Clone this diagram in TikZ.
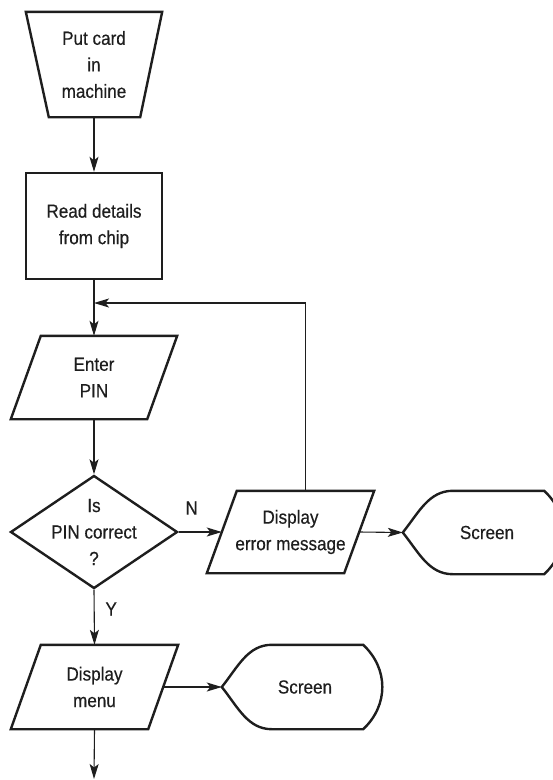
\documentclass[tikz,border=0pt]{standalone}
\usepackage{fontspec}
\setmainfont{Liberation Sans}[FakeStretch=0.9,FakeBold=0.4]
\usetikzlibrary{shapes.geometric,arrows.meta,calc}
\definecolor{ink}{HTML}{1E1E1E}
% parallelogram (input/output) outline around a rectangle node, slant 30pt
\newcommand{\iooutline}[1]{%
  \draw[outline] ($(#1.north west)+(30,0)$) -- (#1.north east) -- ($(#1.south east)+(-30,0)$) -- (#1.south west) -- cycle;
  \coordinate (#1-l) at ($(#1.west)+(15,0)$);
  \coordinate (#1-r) at ($(#1.east)+(-15,0)$);
  \coordinate (#1-t) at ($(#1.north)+(15,0)$);}
\newcommand{\screenoutline}[1]{%
  \draw[outline] (#1.west)
    .. controls ($(#1.west)+(16,-20)$) and ($(#1.north west)+(26,0)$) .. ($(#1.north west)+(50,0)$)
    -- ($(#1.north east)+(-19,0)$)
    .. controls ($(#1.north east)+(6.5,24)$) and ($(#1.south east)+(6.5,-24)$) .. ($(#1.south east)+(-19,0)$)
    -- ($(#1.south west)+(50,0)$)
    .. controls ($(#1.south west)+(26,0)$) and ($(#1.west)+(16,20)$) .. (#1.west) -- cycle;}
\begin{document}
\begin{tikzpicture}[x=1pt,y=-1pt,
  every node/.style={font=\fontsize{19}{26.5}\selectfont, text=ink, align=center},
  outline/.style={draw=ink, line width=2.4pt, line join=miter},
  box/.style={rectangle, draw=ink, line width=2.4pt, minimum width=136pt, minimum height=106pt, inner sep=0pt},
  io/.style={rectangle, draw=none, minimum width=166pt, minimum height=83pt, inner sep=0pt},
  decision/.style={diamond, draw=ink, line width=2.4pt, minimum width=167pt, minimum height=113pt, inner sep=0pt},
  screen/.style={rectangle, draw=none, minimum width=160pt, minimum height=84pt, inner sep=0pt},
  conn/.style={draw=ink, line width=1.1pt, -{Stealth[length=15pt,width=9pt,inset=3.5pt]}},
]
\useasboundingbox (0,0) rectangle (553,780);
\clip (0,0) rectangle (553,780);

% shapes
\node[rectangle, draw=none, minimum width=136pt, minimum height=105pt, inner sep=0pt] (put) at (94,64.5) {Put card\\in\\machine};
\draw[outline] (put.north west) -- (put.north east) -- ($(put.south east)+(-22,0)$) -- ($(put.south west)+(23,0)$) -- cycle;

\node[box] (read) at (94,226) {\fontsize{19}{23}\selectfont Read details\\from chip};
\node[io] (pin) at (94,377.5) {Enter\\PIN};
\iooutline{pin}
\node[decision] (dec) at (94,532) {};
\node (dectext) at (dec.center) {Is\\PIN correct\\?};
\node[io, minimum width=167pt, minimum height=82pt] (err) at (290.5,532) {Display\\error message};
\iooutline{err}
\node[screen, minimum height=83pt] (s1) at (483,532.5) {};
\node (s1text) at ($(s1.center)+(4,0)$) {Screen};
\screenoutline{s1}
\node[io, minimum width=167pt, minimum height=84pt] (menu) at (94.5,687) {Display\\menu};
\iooutline{menu}
\node[screen] (s2) at (302,687) {};
\node (s2text) at ($(s2.center)+(3,0)$) {Screen};
\screenoutline{s2}

\coordinate (join) at (94,303);
\coordinate (tail) at (94,779);

% connectors
\draw[conn] (put.south) -- (read.north);
\draw[conn] (read.south) -- (pin.north);
\draw[conn] (pin.south) -- (dec.north);
\draw[conn] (dec.east) -- node[pos=0.3, yshift=24pt] (nlab) {N} (err-l);
\draw[conn] (err-r) -- (s1.west);
\draw[conn] (err-t) |- (join);
\draw[conn] (dec.south) -- node[pos=0.35, xshift=17pt] (ylab) {Y} (menu.north);
\draw[conn] (menu-r) -- (s2.west);
\draw[conn] (menu.south) -- (tail);
\end{tikzpicture}
\end{document}
